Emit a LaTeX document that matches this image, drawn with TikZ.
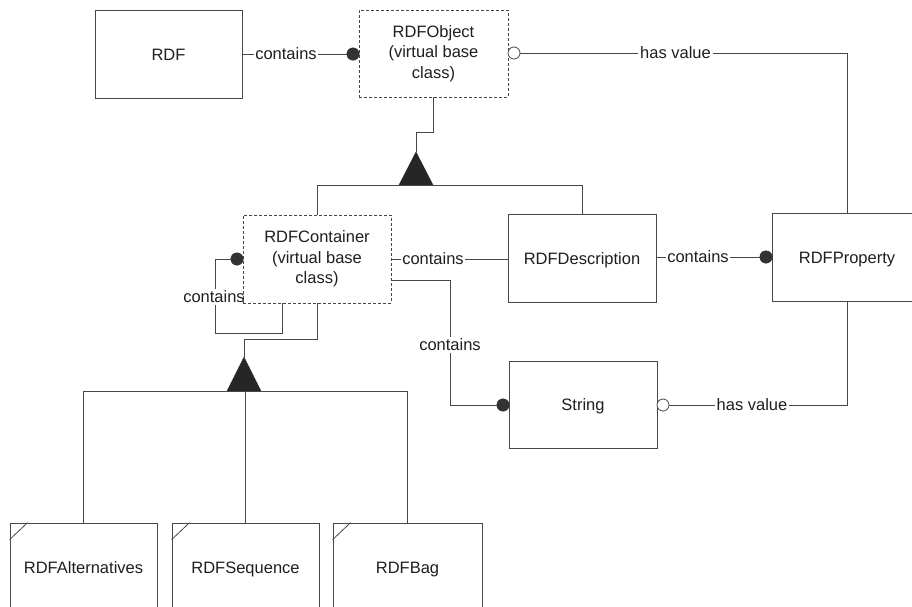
\documentclass[tikz,border=0pt]{standalone}
\usepackage{fontspec}
\setmainfont{Liberation Sans}
\begin{document}
\begin{tikzpicture}[x=1pt,y=-1pt,
  conn/.style={draw=black!72,line width=0.8pt},
  cls/.style={draw=black!72,line width=0.8pt,rectangle,inner sep=0pt,align=center,
     text=black!88,font=\fontsize{16.5}{20.5}\selectfont},
  one/.style={text height=12pt,text depth=0pt},
  vcls/.style={cls,dash pattern=on 3pt off 2pt},
  lbl/.style={inner sep=1.5pt,text=black!88,font=\fontsize{16.5}{20.5}\selectfont},
  fdot/.style={circle,fill=black!80,draw=black!80,minimum size=12.5pt,inner sep=0pt},
  odot/.style={circle,fill=white,draw=black!72,line width=0.8pt,minimum size=12pt,inner sep=0pt},
  tri/.style={fill=black!85,draw=black!85}]
\clip (0,0) rectangle (912,606);
\fill[white] (0,0) rectangle (912,606);

% classes
\node[cls,one,minimum width=147pt,minimum height=88pt] (rdf) at (168.5,54) {RDF};
\node[vcls,minimum width=149pt,minimum height=87pt] (obj) at (433.5,53.5) {RDFObject\\(virtual base\\class)};
\node[vcls,minimum width=148pt,minimum height=88pt] (cont) at (317,259) {RDFContainer\\(virtual base\\class)};
\node[cls,one,minimum width=148pt,minimum height=88pt] (desc) at (582,258) {RDFDescription};
\node[cls,one,minimum width=150pt,minimum height=88pt] (prop) at (847,257) {RDFProperty};
\node[cls,one,minimum width=148pt,minimum height=87pt] (str) at (583,404.5) {String};
\node[cls,one,minimum width=147pt,minimum height=88pt] (alt) at (83.5,567) {RDFAlternatives};
\node[cls,one,minimum width=147pt,minimum height=88pt] (seq) at (245.5,567) {RDFSequence};
\node[cls,one,minimum width=149pt,minimum height=88pt] (bag) at (407.5,567) {RDFBag};
\foreach \b in {alt,seq,bag}
  \draw[conn] ([yshift=-17pt]\b.north west) -- ([xshift=18pt]\b.north west);

% RDF contains RDFObject
\node[lbl] (l1) at (286,54) {contains};
\node[fdot] (d1) at (353,54) {};
\draw[conn] (rdf.east |- l1) -- (l1.west);
\draw[conn] (l1.east) -- (d1);

% RDFObject has value (from RDFProperty)
\node[odot] (o1) at (514,53) {};
\node[lbl] (l2) at (675.5,53) {has value};
\draw[conn] (o1) -- (l2.west);
\draw[conn] (l2.east) -- (l2.east -| prop.north) -- (prop.north);

% inheritance RDFObject
\coordinate (t1) at (416,152);
\coordinate (b1) at (416,185);
\draw[conn] (obj.south) |- (416,132) -- (t1);
\fill[tri] (t1) -- (399,185) -- (433,185) -- cycle;
\draw[conn] (cont.north) -- (cont.north |- b1) -- (desc.north |- b1) -- (desc.north);

% RDFContainer self contains
\node[fdot] (d2) at (237,259) {};
\node[lbl] (l3) at (214,297) {contains};
\coordinate (s1) at (215,259);
\coordinate (s2) at (215,333);
\coordinate (s3) at (282,333);
\draw[conn] (d2) -- (s1) -- (s1 |- l3.north);
\draw[conn] (s2 |- l3.south) -- (s2) -- (s3) -- (s3 |- cont.south);

% RDFContainer contains RDFDescription
\node[lbl] (l4) at (433,259) {contains};
\draw[conn] (cont.east) -- (l4.west);
\draw[conn] (l4.east) -- (desc.west |- l4);

% RDFContainer contains String
\node[lbl] (l5) at (450,345) {contains};
\node[fdot] (d3) at (503,405) {};
\draw[conn] ([yshift=-21pt]cont.east) -| (l5.north);
\draw[conn] (l5.south) |- (d3);

% RDFDescription contains RDFProperty
\node[lbl] (l6) at (698,257) {contains};
\node[fdot] (d4) at (766,257) {};
\draw[conn] (desc.east |- l6) -- (l6.west);
\draw[conn] (l6.east) -- (d4);

% String has value (from RDFProperty)
\node[odot] (o2) at (663,405) {};
\node[lbl] (l7) at (752,405) {has value};
\draw[conn] (o2) -- (l7.west);
\draw[conn] (l7.east) -- (l7.east -| prop.south) -- (prop.south);

% inheritance RDFContainer
\coordinate (t2) at (244,357);
\coordinate (b2) at (244,391);
\draw[conn] (cont.south) |- (244,339) -- (t2);
\fill[tri] (t2) -- (227,391) -- (261,391) -- cycle;
\draw[conn] (alt.north) -- (alt.north |- b2) -- (bag.north |- b2) -- (bag.north);
\draw[conn] (seq.north |- b2) -- (seq.north);
\end{tikzpicture}
\end{document}
